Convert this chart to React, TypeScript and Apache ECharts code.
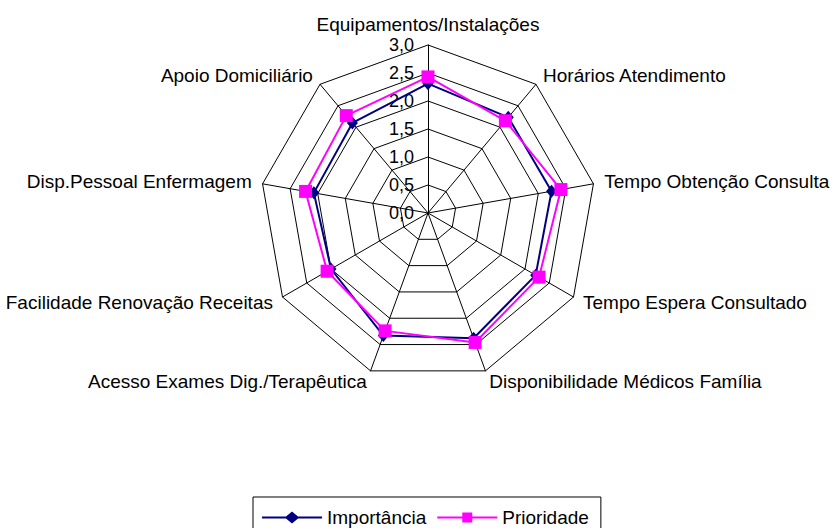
import React, { useEffect, useRef } from "react";
import * as echarts from "echarts";

// Clockwise from the top
const categories = [
  "Equipamentos/Instalações",
  "Horários Atendimento",
  "Tempo Obtenção Consulta",
  "Tempo Espera Consultado",
  "Disponibilidade Médicos Família",
  "Acesso Exames Dig./Terapêutica",
  "Facilidade Renovação Receitas",
  "Disp.Pessoal Enfermagem",
  "Apoio Domiciliário",
];
const importancia = [2.31, 2.23, 2.24, 2.22, 2.38, 2.33, 2.0, 2.07, 2.1];
const prioridade = [2.43, 2.15, 2.41, 2.29, 2.46, 2.24, 2.08, 2.22, 2.27];
const seriesNames = ["Importância", "Prioridade"];
const axisMin = 0;
const axisMax = 3;
const axisStep = 0.5;

// ECharts radar runs counter-clockwise; reorder so the picture runs clockwise
const order = [0, ...categories.map((_, i) => i).slice(1).reverse()];
const reorder = <T,>(arr: T[]) => order.map((i) => arr[i]);

const FONT = "'Liberation Sans', Arial, sans-serif";
const CENTER = [428, 213];
const RADIUS = 168;

const ICON_DIAMOND = "path://M0,5.1L24,5.1L30,0L36,5.1L60,5.1L60,6.9L36,6.9L30,12L24,6.9L0,6.9Z";
const ICON_SQUARE = "path://M0,5.1L25,5.1L25,1L35,1L35,5.1L60,5.1L60,6.9L35,6.9L35,11L25,11L25,6.9L0,6.9Z";

export default function App() {
  const ref = useRef<HTMLDivElement>(null);
  useEffect(() => {
    if (!ref.current) return;
    const chart = echarts.init(ref.current, undefined, { renderer: "svg" });
    chart.setOption({
      animation: false,
      backgroundColor: "#ffffff",
      textStyle: { fontFamily: FONT },
      legend: {
        data: [
          { name: seriesNames[0], icon: ICON_DIAMOND },
          { name: seriesNames[1], icon: ICON_SQUARE },
        ],
        left: 253,
        top: 497,
        orient: "horizontal",
        itemWidth: 60,
        itemHeight: 12,
        itemGap: 11,
        padding: [11, 12, 30, 9],
        borderColor: "#000",
        borderWidth: 1,
        textStyle: { fontFamily: FONT, fontSize: 19, color: "#000" },
      },
      radar: {
        center: CENTER,
        radius: RADIUS,
        startAngle: 90,
        shape: "polygon",
        splitNumber: (axisMax - axisMin) / axisStep,
        nameGap: 11,
        axisName: { color: "#000", fontSize: 19, fontFamily: FONT },
        splitLine: { lineStyle: { color: "#000", width: 1 } },
        splitArea: { show: false },
        axisLine: { lineStyle: { color: "#000", width: 1 } },
        axisTick: { show: false },
        axisLabel: { show: false },
        indicator: reorder(categories).map((name) => ({ name, min: axisMin, max: axisMax })),
      },
      polar: { center: CENTER, radius: RADIUS },
      angleAxis: { show: false, startAngle: 90, min: 0, max: 360 },
      radiusAxis: {
        min: axisMin,
        max: axisMax,
        interval: axisStep,
        axisLine: { show: false },
        axisTick: { show: false },
        splitLine: { show: false },
        axisLabel: {
          show: true,
          margin: 14,
          color: "#000",
          fontSize: 18,
          fontFamily: FONT,
          formatter: (v: number) => v.toFixed(1).replace(".", ","),
        },
      },
      series: [
        {
          type: "radar",
          data: [
            {
              name: seriesNames[0],
              value: reorder(importancia),
              symbol: "diamond",
              symbolSize: [11, 13],
              lineStyle: { color: "#000080", width: 2 },
              itemStyle: { color: "#000080" },
            },
            {
              name: seriesNames[1],
              value: reorder(prioridade),
              symbol: "rect",
              symbolSize: 13,
              lineStyle: { color: "#FF00FF", width: 2 },
              itemStyle: { color: "#FF00FF" },
            },
          ],
        },
      ],
    });
    return () => chart.dispose();
  }, []);
  return (
    <div
      ref={ref}
      style={{ position: "fixed", left: 0, top: 0, width: 833, height: 528, background: "#fff" }}
    />
  );
}
